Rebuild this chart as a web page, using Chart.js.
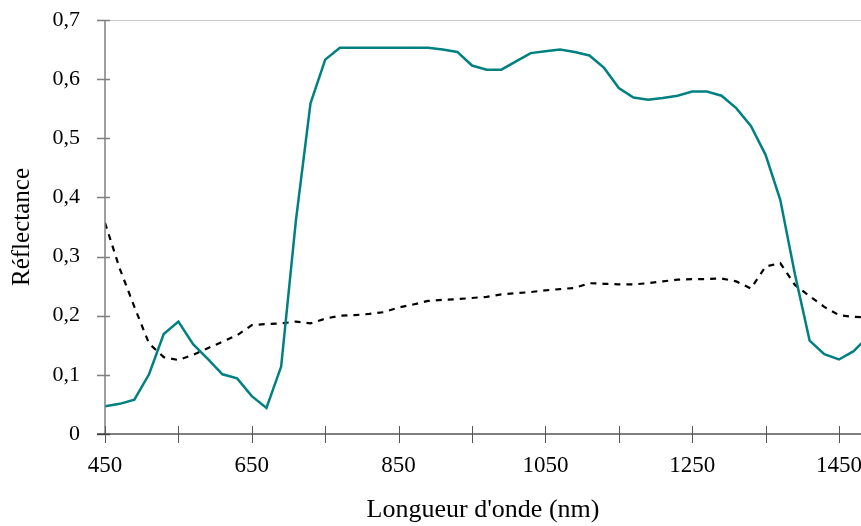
<!DOCTYPE html>
<html>
<head>
<meta charset="utf-8">
<script src="https://cdn.jsdelivr.net/npm/chart.js@4"></script>
<style>
  html, body { margin: 0; padding: 0; background: #fff; }
  #wrap { width: 861px; height: 526px; }
</style>
</head>
<body>
<div id="wrap"><canvas id="chart"></canvas></div>
<script>
// longueurs d'onde (nm), pas de 20 nm
const wavelengths = [450, 470, 490, 510, 530, 550, 570, 590, 610, 630, 650, 670, 690, 710, 730, 750, 770, 790, 810, 830, 850, 870, 890, 910, 930, 950, 970, 990, 1010, 1030, 1050, 1070, 1090, 1110, 1130, 1150, 1170, 1190, 1210, 1230, 1250, 1270, 1290, 1310, 1330, 1350, 1370, 1390, 1410, 1430, 1450, 1470, 1490];

// courbe verte (végétation)
const vegetation = [0.047, 0.051, 0.058, 0.101, 0.169, 0.190, 0.152, 0.127, 0.101, 0.094, 0.064, 0.044, 0.114, 0.360, 0.559, 0.633, 0.653, 0.653, 0.653, 0.653, 0.653, 0.653, 0.653, 0.650, 0.646, 0.623, 0.616, 0.616, 0.630, 0.644, 0.647, 0.650, 0.646, 0.640, 0.619, 0.585, 0.569, 0.565, 0.568, 0.572, 0.579, 0.579, 0.572, 0.551, 0.521, 0.472, 0.396, 0.270, 0.158, 0.135, 0.126, 0.140, 0.165];

// courbe pointillée (sol)
const sol = [0.357, 0.280, 0.215, 0.153, 0.130, 0.125, 0.134, 0.145, 0.156, 0.167, 0.184, 0.186, 0.187, 0.190, 0.187, 0.195, 0.200, 0.201, 0.203, 0.206, 0.214, 0.219, 0.225, 0.227, 0.228, 0.230, 0.232, 0.236, 0.238, 0.240, 0.243, 0.245, 0.247, 0.255, 0.254, 0.253, 0.253, 0.255, 0.258, 0.261, 0.262, 0.262, 0.263, 0.258, 0.246, 0.283, 0.289, 0.252, 0.233, 0.215, 0.201, 0.198, 0.197];

const xTicks = [450, 550, 650, 750, 850, 950, 1050, 1150, 1250, 1350, 1450];
const xLabels = [450, 650, 850, 1050, 1250, 1450];
const yTicks = [0, 0.1, 0.2, 0.3, 0.4, 0.5, 0.6, 0.7];

const toPoints = (vals) => vals.map((v, i) => ({ x: wavelengths[i], y: v }));

// axes dessinés à la main : traits qui croisent l'axe
const axesPlugin = {
  id: 'axes',
  afterDatasetsDraw(chart) {
    const { ctx, chartArea, scales } = chart;
    const x0 = scales.y.getPixelForValue(0);
    ctx.save();
    // bord supérieur gris
    ctx.strokeStyle = '#cccccc';
    ctx.lineWidth = 1;
    ctx.beginPath();
    ctx.moveTo(chartArea.left, chartArea.top + 0.5);
    ctx.lineTo(chartArea.right, chartArea.top + 0.5);
    ctx.stroke();
    // axe Y
    ctx.strokeStyle = '#7f7f7f';
    ctx.lineWidth = 1.5;
    ctx.beginPath();
    ctx.moveTo(chartArea.left, chartArea.top);
    ctx.lineTo(chartArea.left, x0);
    ctx.stroke();
    yTicks.forEach(v => {
      const p = Math.round(scales.y.getPixelForValue(v)) + 0.5;
      ctx.beginPath();
      ctx.moveTo(chartArea.left - 8, p);
      ctx.lineTo(chartArea.left + 5, p);
      ctx.stroke();
    });
    // axe X
    ctx.strokeStyle = '#000';
    ctx.lineWidth = 1.2;
    ctx.beginPath();
    ctx.moveTo(chartArea.left - 8, x0);
    ctx.lineTo(chartArea.right, x0);
    ctx.stroke();
    ctx.strokeStyle = '#555';
    ctx.lineWidth = 1;
    xTicks.forEach(v => {
      const p = Math.round(scales.x.getPixelForValue(v)) + 0.5;
      ctx.beginPath();
      ctx.moveTo(p, x0 - 8);
      ctx.lineTo(p, x0 + 9);
      ctx.stroke();
    });
    ctx.restore();
  }
};

const serifFamily = '"Liberation Serif", "DejaVu Serif", serif';

new Chart(document.getElementById('chart'), {
  type: 'line',
  data: {
    datasets: [
      {
        label: 'Végétation',
        data: toPoints(vegetation),
        borderColor: '#008080',
        borderWidth: 2.5,
        pointRadius: 0,
        tension: 0,
        fill: false,
      },
      {
        label: 'Sol',
        data: toPoints(sol),
        borderColor: '#000',
        borderWidth: 2.2,
        borderDash: [6, 6],
        pointRadius: 0,
        tension: 0,
        fill: false,
      },
    ],
  },
  options: {
    responsive: true,
    maintainAspectRatio: false,
    animation: false,
    layout: { padding: { top: 20, right: 0, bottom: 0, left: 0 } },
    plugins: { legend: { display: false }, tooltip: { enabled: false } },
    scales: {
      x: {
        type: 'linear',
        min: 450,
        max: 1480,
        afterFit: (s) => { s.height = 92; s.paddingLeft = 0; s.paddingRight = 0; },
        afterBuildTicks: (s) => { s.ticks = xLabels.map(v => ({ value: v })); },
        grid: { display: false },
        border: { display: false },
        ticks: {
          color: '#000',
          font: { family: serifFamily, size: 23 },
          padding: 10,
          maxRotation: 0,
          autoSkip: false,
          callback: (v) => String(v),
        },
        title: { display: true, text: "Longueur d'onde (nm)", color: '#000', font: { family: serifFamily, size: 26 }, padding: { top: 0, bottom: 0 } },
      },
      y: {
        min: 0,
        max: 0.7,
        afterFit: (s) => { s.width = 105; s.paddingTop = 0; s.paddingBottom = 0; },
        afterBuildTicks: (s) => { s.ticks = yTicks.map(v => ({ value: v })); },
        grid: { display: false },
        border: { display: false },
        ticks: {
          color: '#000',
          font: { family: serifFamily, size: 22 },
          padding: 17,
          callback: (v) => (v === 0 ? '0' : v.toFixed(1).replace('.', ',')),
        },
        title: { display: true, text: 'Réflectance', color: '#000', font: { family: serifFamily, size: 25 }, padding: { top: 7, bottom: 0 } },
      },
    },
  },
  plugins: [axesPlugin],
});
</script>
</body>
</html>
